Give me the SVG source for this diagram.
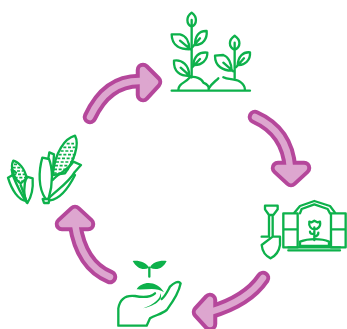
<svg xmlns="http://www.w3.org/2000/svg" width="347" height="329" viewBox="0 0 347 329">
<style>
.o,.i{stroke-linejoin:round;stroke-linecap:round}
.o{fill:#b5479b;stroke:#b5479b;stroke-width:14.500}
.i{fill:#dda6cf;stroke:#dda6cf;stroke-width:6.500}
.s{fill:none}
.g{fill:none;stroke:#0db14b;stroke-width:7;stroke-linejoin:round;stroke-linecap:round}
.h{fill:none;stroke:#0db14b;stroke-width:5;stroke-dasharray:9 5;stroke-linecap:butt}
.f{fill:#0db14b;stroke:none}
</style>
<rect width="347" height="329" fill="#fff"/>
<g id="connectors">
<path class="o s" d="M90,117Q107.500,79 143,81"/><path class="o" d="M143,70L155,82L143,95Z"/><path class="i s" d="M90,117Q107.500,79 143,81"/><path class="i" d="M143,70L155,82L143,95Z"/>
<path class="o s" d="M255,117Q287.500,131.500 290,168"/><path class="o" d="M278,168L304,168L291,180Z"/><path class="i s" d="M255,117Q287.500,131.500 290,168"/><path class="i" d="M278,168L304,168L291,180Z"/>
<path class="o s" d="M263,278Q247.500,301 210,312"/><path class="o" d="M210,300L210,324L199,312Z"/><path class="i s" d="M263,278Q247.500,301 210,312"/><path class="i" d="M210,300L210,324L199,312Z"/>
<path class="o s" d="M110,277Q81,265 75,224"/><path class="o" d="M62,224L88,224L75,212Z"/><path class="i s" d="M110,277Q81,265 75,224"/><path class="i" d="M62,224L88,224L75,212Z"/>
</g>
<g id="plants" class="g" transform="translate(160,0) scale(.3333)">
<path d="M35,272H270M55,270C55,250 75,250 90,232C105,228 125,235 130,248C140,252 148,258 146,268M146,266C155,250 165,245 175,235M190,232C205,240 225,235 240,245C250,252 255,260 255,270"/>
<path d="M95,60V232M95,38C78,50 78,72 95,80C112,72 112,50 95,38Z"/>
<path d="M35,103L60,103C78,107 88,125 88,148C65,148 35,140 35,103ZM60,122L92,148"/>
<path d="M140,93C115,92 105,110 105,135C130,135 142,115 140,93ZM120,115L97,142"/>
<path d="M142,158C115,155 102,170 100,195C125,197 143,180 142,158ZM120,177L97,202"/>
<path d="M42,182C65,178 88,195 88,228C60,228 40,215 42,182ZM62,203L92,230"/>
<path d="M224,128V235M224,107C205,120 205,140 224,150C243,140 243,120 224,107Z"/>
<path d="M165,167L190,165C205,170 215,190 215,212C190,212 165,200 165,167ZM190,188L220,214"/>
<path d="M270,157C248,155 235,170 233,195C255,197 272,180 270,157ZM252,175L228,202"/>
</g>
<g id="corn" class="g" transform="translate(0,125) scale(.3333)">
<path d="M225,32C195,40 165,80 158,150L195,145C220,110 240,60 225,32Z"/>
<path class="h" d="M200,56H222M190,67H226M182,78H227M176,89H226M172,100H223M168,111H219M165,122H213M162,133H206M161,144H196"/>
<path d="M128,222H148L146,234H132Z"/>
<path d="M136,220C115,190 115,140 127,98L147,102C158,130 160,175 146,220"/>
<path d="M145,100L148,82L162,88L158,150"/>
<path d="M146,220C170,195 205,175 225,140L243,120L220,110C205,135 175,145 158,165"/>
<path d="M150,226C180,222 205,190 225,150"/>
<path d="M40,107C55,110 75,130 80,160L62,175C45,165 28,130 40,107Z"/>
<path class="h" d="M42,118H55M38,128H63M37,138H70M40,148H75M44,158H77M50,168H68"/>
<path d="M24,158L38,150C50,180 65,210 78,228C55,225 35,195 24,158Z"/>
<path d="M38,150L35,133L48,143"/>
<path d="M80,155L98,160C100,190 95,215 82,234C70,215 70,180 80,155Z"/>
<path d="M62,180C70,200 75,215 80,232"/>
</g>
<g id="shed" class="g" transform="translate(255,190) scale(.3333)">
<path d="M30,47H68V58L55,75H42L30,58ZM42,75V138M53,75V138M20,140H42M53,140H75V165C72,185 60,198 47,205C32,198 22,185 20,165Z"/>
<path d="M85,70H128V172H85ZM85,118H128M228,70H272V172H228ZM228,118H272"/>
<path d="M118,68L135,48L178,33L225,48L240,68M135,70L140,57L178,43L218,57L225,70M100,172H255M100,181H255"/>
<path d="M135,155C160,145 200,145 222,155V168H135Z"/>
<path d="M178,112V150M163,95C160,110 170,118 178,118C188,118 198,110 195,95L187,97L178,92L170,97ZM178,132C168,132 165,128 165,125M178,140C188,138 190,132 190,128"/>
</g>
<g id="hand" class="g" transform="translate(110,255) scale(.3333)">
<path class="f" d="M68,18C85,15 110,22 117,38C100,48 80,40 68,18ZM170,18C150,15 125,22 120,38C140,48 160,40 170,18ZM80,103C95,78 140,75 162,112C140,95 110,105 80,103ZM100,160C130,150 155,130 150,115C162,130 140,152 100,160Z"/>
<path d="M118,38V65"/>
<path d="M25,212V160C30,130 50,120 75,123C100,128 120,128 135,115M25,212H110L120,190C135,180 155,178 170,165C185,145 205,120 212,85C205,75 190,85 180,95C172,110 165,125 155,132"/>
</g>
</svg>
